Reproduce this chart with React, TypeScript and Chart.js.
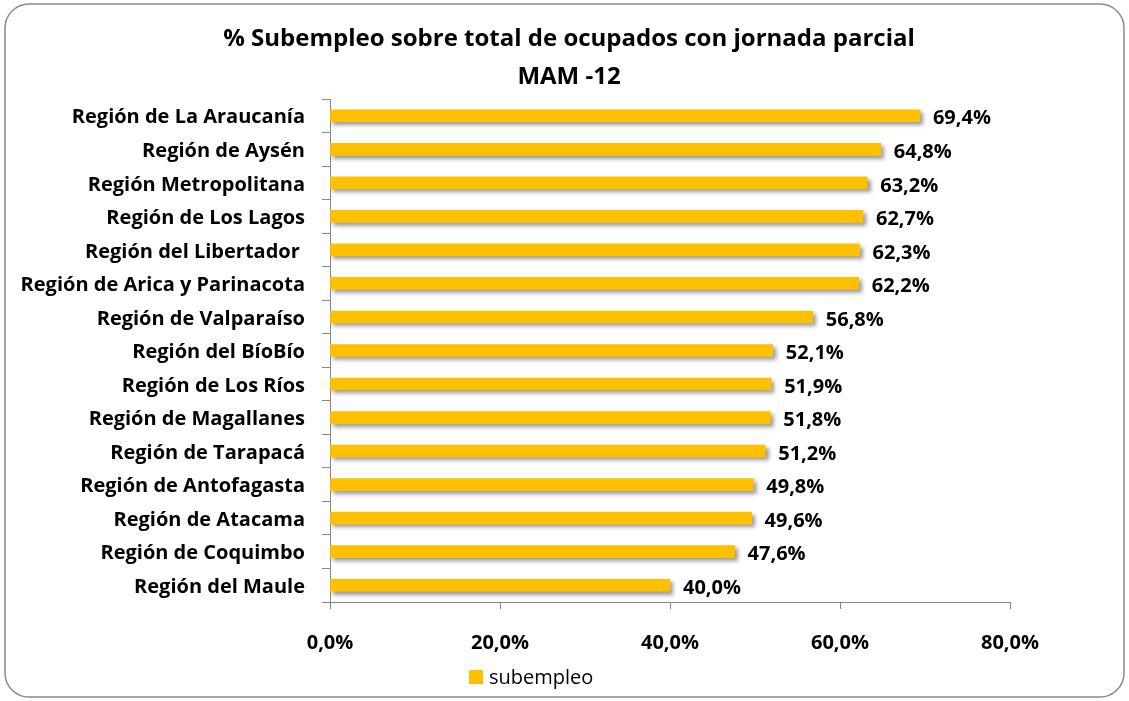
import React, { useEffect, useRef } from "react";
import { Chart, registerables } from "chart.js";

Chart.register(...registerables);

const categories = [
  "Región de La Araucanía",
  "Región de Aysén",
  "Región Metropolitana",
  "Región de Los Lagos",
  "Región del Libertador ",
  "Región de Arica y Parinacota",
  "Región de Valparaíso",
  "Región del BíoBío",
  "Región de Los Ríos",
  "Región de Magallanes",
  "Región de Tarapacá",
  "Región de Antofagasta",
  "Región de Atacama",
  "Región de Coquimbo",
  "Región del Maule",
];

const subempleo = [69.4, 64.8, 63.2, 62.7, 62.3, 62.2, 56.8, 52.1, 51.9, 51.8, 51.2, 49.8, 49.6, 47.6, 40.0];

const xTicks = [0, 20, 40, 60, 80];

const titleLines = ["% Subempleo sobre total de ocupados con jornada parcial", "MAM -12"];
const seriesName = "subempleo";

const FONT = "'Open Sans', Lato, sans-serif";
const BAR_COLOR = "#FFC000";
const AXIS_COLOR = "#868686";

const fmt = (v: number) => v.toFixed(1).replace(".", ",") + "%";

export default function App() {
  const ref = useRef<HTMLCanvasElement>(null);

  useEffect(() => {
    const canvas = ref.current;
    if (!canvas) return;

    const frame = {
      id: "frame",
      beforeDraw(chart: any) {
        const ctx = chart.ctx;
        ctx.save();
        ctx.fillStyle = "#ffffff";
        ctx.fillRect(0, 0, chart.width, chart.height);
        const x = 5, y = 4, w = chart.width - 10, h = chart.height - 8, r = 24;
        ctx.beginPath();
        ctx.moveTo(x + r, y);
        ctx.lineTo(x + w - r, y);
        ctx.arcTo(x + w, y, x + w, y + r, r);
        ctx.lineTo(x + w, y + h - r);
        ctx.arcTo(x + w, y + h, x + w - r, y + h, r);
        ctx.lineTo(x + r, y + h);
        ctx.arcTo(x, y + h, x, y + h - r, r);
        ctx.lineTo(x, y + r);
        ctx.arcTo(x, y, x + r, y, r);
        ctx.closePath();
        ctx.strokeStyle = "#8a8a8a";
        ctx.lineWidth = 1.5;
        ctx.stroke();
        ctx.restore();
      },
    };

    const shadow = {
      id: "barShadow",
      beforeDatasetDraw(chart: any) {
        const ctx = chart.ctx;
        ctx.save();
        ctx.shadowColor = "rgba(0,0,0,0.4)";
        ctx.shadowBlur = 4;
        ctx.shadowOffsetX = 3;
        ctx.shadowOffsetY = 3;
      },
      afterDatasetDraw(chart: any) {
        chart.ctx.restore();
      },
    };

    const labels = {
      id: "valueLabels",
      afterDatasetsDraw(chart: any) {
        const ctx = chart.ctx;
        const meta = chart.getDatasetMeta(0);
        ctx.save();
        ctx.font = `bold 20px ${FONT}`;
        ctx.fillStyle = "#000";
        ctx.textAlign = "left";
        ctx.textBaseline = "middle";
        meta.data.forEach((bar: any, i: number) => {
          ctx.fillText(fmt(subempleo[i]), bar.x + 13, bar.y + 3);
        });
        ctx.restore();
      },
    };

    const titleLegend = {
      id: "titleLegend",
      afterDraw(chart: any) {
        const ctx = chart.ctx;
        ctx.save();
        ctx.fillStyle = "#000";
        ctx.textAlign = "center";
        ctx.textBaseline = "alphabetic";
        ctx.font = `bold 24px ${FONT}`;
        ctx.fillText(titleLines[0], 569, 46);
        ctx.fillText(titleLines[1], 569, 84);
        // legend
        ctx.fillStyle = BAR_COLOR;
        ctx.fillRect(469, 670, 14, 14);
        ctx.fillStyle = "#000";
        ctx.textAlign = "left";
        ctx.textBaseline = "middle";
        ctx.font = `20px ${FONT}`;
        ctx.fillText(seriesName, 489, 678);
        ctx.restore();
      },
    };

    const chart = new Chart(canvas, {
      type: "bar",
      data: {
        labels: categories,
        datasets: [
          {
            label: seriesName,
            data: subempleo,
            backgroundColor: BAR_COLOR,
            borderWidth: 0,
            barThickness: 12,
          },
        ],
      },
      options: {
        indexAxis: "y",
        responsive: false,
        animation: false,
        layout: { padding: { top: 99, right: 119, left: 0, bottom: 0 } },
        plugins: {
          legend: { display: false },
          title: { display: false },
          tooltip: { enabled: false },
        },
        scales: {
          x: {
            min: 0,
            max: 80,
            afterFit(scale: any) {
              scale.height = 99;
            },
            afterBuildTicks(scale: any) {
              scale.ticks = xTicks.map((v) => ({ value: v }));
            },
            ticks: {
              callback: (v: any) => fmt(Number(v)),
              color: "#000",
              font: { family: FONT, size: 20, weight: "bold" },
              padding: 22,
              maxRotation: 0,
            },
            grid: {
              drawOnChartArea: false,
              drawTicks: true,
              tickLength: 7,
              color: AXIS_COLOR,
            },
            border: { color: AXIS_COLOR, width: 1 },
          },
          y: {
            afterFit(scale: any) {
              scale.width = 330;
            },
            ticks: {
              color: "#000",
              font: { family: FONT, size: 20, weight: "bold" },
              padding: 17,
              labelOffset: 2,
              autoSkip: false,
            },
            grid: {
              drawOnChartArea: false,
              drawTicks: true,
              tickLength: 8,
              color: AXIS_COLOR,
              offset: true,
            },
            border: { color: AXIS_COLOR, width: 1 },
          },
        },
      },
      plugins: [frame, shadow, labels, titleLegend],
    } as any);

    return () => chart.destroy();
  }, []);

  return (
    <div style={{ position: "fixed", left: 0, top: 0, width: 1129, height: 701 }}>
      <canvas ref={ref} width={1129} height={701} style={{ display: "block" }} />
    </div>
  );
}
